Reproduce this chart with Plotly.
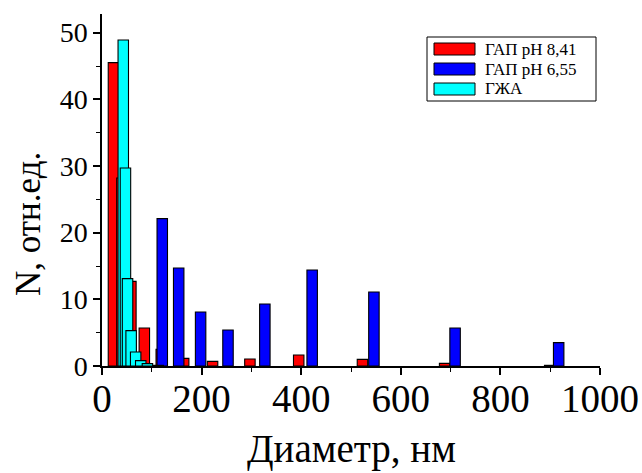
import plotly.graph_objects as go

# Particle size distributions (diameter, nm -> relative count)
red_name = "ГАП pH 8,41"
red_d = [23, 40, 58, 85, 119, 164, 222, 297, 395, 523, 688, 899]
red_n = [45.5, 28.2, 12.7, 5.7, 2.5, 1.15, 0.7, 1.05, 1.65, 1.0, 0.4, 0.1]

blue_name = "ГАП pH 6,55"
blue_d = [121, 154, 198, 253, 327, 422, 546, 709, 917]
blue_n = [22.1, 14.7, 8.1, 5.4, 9.3, 14.4, 11.1, 5.7, 3.5]

cyan_name = "ГЖА"
cyan_d = [42.7, 47.1, 51.3, 58.5, 67.6, 77.8, 91.2, 113]
cyan_n = [48.9, 29.7, 13.1, 5.3, 2.1, 0.8, 0.35, 0.1]

x_ticks = [0, 200, 400, 600, 800, 1000]
y_ticks = [0, 10, 20, 30, 40, 50]
x_title = "Диаметр, нм"
y_title = "N, отн.ед."

series = [
    (red_name, red_d, red_n, "#FF0000"),
    (blue_name, blue_d, blue_n, "#0000FF"),
    (cyan_name, cyan_d, cyan_n, "#00FFFF"),
]

FONT = "Liberation Serif"
W, H = 642, 473
ML, MR, MT, MB = 102, 42, 14, 107

fig = go.Figure()
for name, d, n, color in series:
    fig.add_trace(go.Bar(
        x=d, y=n, name=name, width=21,
        marker=dict(color=color, line=dict(color="#000000", width=1.1)),
        showlegend=False,
    ))

fig.update_layout(
    width=W, height=H,
    margin=dict(l=ML, r=MR, t=MT, b=MB, pad=0, autoexpand=False),
    barmode="overlay",
    plot_bgcolor="white", paper_bgcolor="white",
    font=dict(family=FONT, color="black"),
    showlegend=False,
)

fig.update_xaxes(
    range=[0, 1000], tickvals=x_ticks, ticktext=[str(v) for v in x_ticks],
    showline=True, linecolor="black", linewidth=1.5, mirror=False,
    ticks="outside", ticklen=7, tickwidth=1.5, tickcolor="black",
    minor=dict(dtick=100, ticks="outside", ticklen=4, tickwidth=1.2, tickcolor="black"),
    showgrid=False, zeroline=False, automargin=False,
    tickfont=dict(size=39, family=FONT), ticklabelstandoff=-10,
)
fig.update_yaxes(
    range=[0, 52.8], tickvals=y_ticks, ticktext=[str(v) for v in y_ticks],
    showline=True, linecolor="black", linewidth=1.5, mirror=False,
    ticks="outside", ticklen=7, tickwidth=1.5, tickcolor="black",
    minor=dict(dtick=5, ticks="outside", ticklen=4, tickwidth=1.2, tickcolor="black"),
    showgrid=False, zeroline=False, automargin=False,
    tickfont=dict(size=28, family=FONT),
)

# Helpers: pixel position on the page -> paper coordinates
pw, ph = W - ML - MR, H - MT - MB
def px(x):
    return (x - ML) / pw
def py(y):
    return (H - MB - y) / ph

# Axis titles
fig.add_annotation(xref="paper", yref="paper", x=px(351), y=py(449),
                   text=x_title, showarrow=False, xanchor="center", yanchor="middle",
                   font=dict(size=39, family=FONT, color="black"))
fig.add_annotation(xref="paper", yref="paper", x=px(28), y=py(224),
                   text=y_title, showarrow=False, xanchor="center", yanchor="middle",
                   textangle=-90, font=dict(size=35, family=FONT, color="black"))

# Legend box
fig.add_shape(type="rect", xref="paper", yref="paper",
              x0=px(427), x1=px(596), y0=py(101), y1=py(37),
              line=dict(color="black", width=1), fillcolor="white", layer="above")
row_y = [49, 69, 89]
for (name, _, _, color), ry in zip(series, row_y):
    fig.add_shape(type="rect", xref="paper", yref="paper",
                  x0=px(434), x1=px(475), y0=py(ry + 6), y1=py(ry - 6),
                  line=dict(color="black", width=1), fillcolor=color, layer="above")
    fig.add_annotation(xref="paper", yref="paper", x=px(483), y=py(ry),
                       text=name, showarrow=False, xanchor="left", yanchor="middle",
                       font=dict(size=17, family=FONT, color="black"))

fig.write_html("out.html")
